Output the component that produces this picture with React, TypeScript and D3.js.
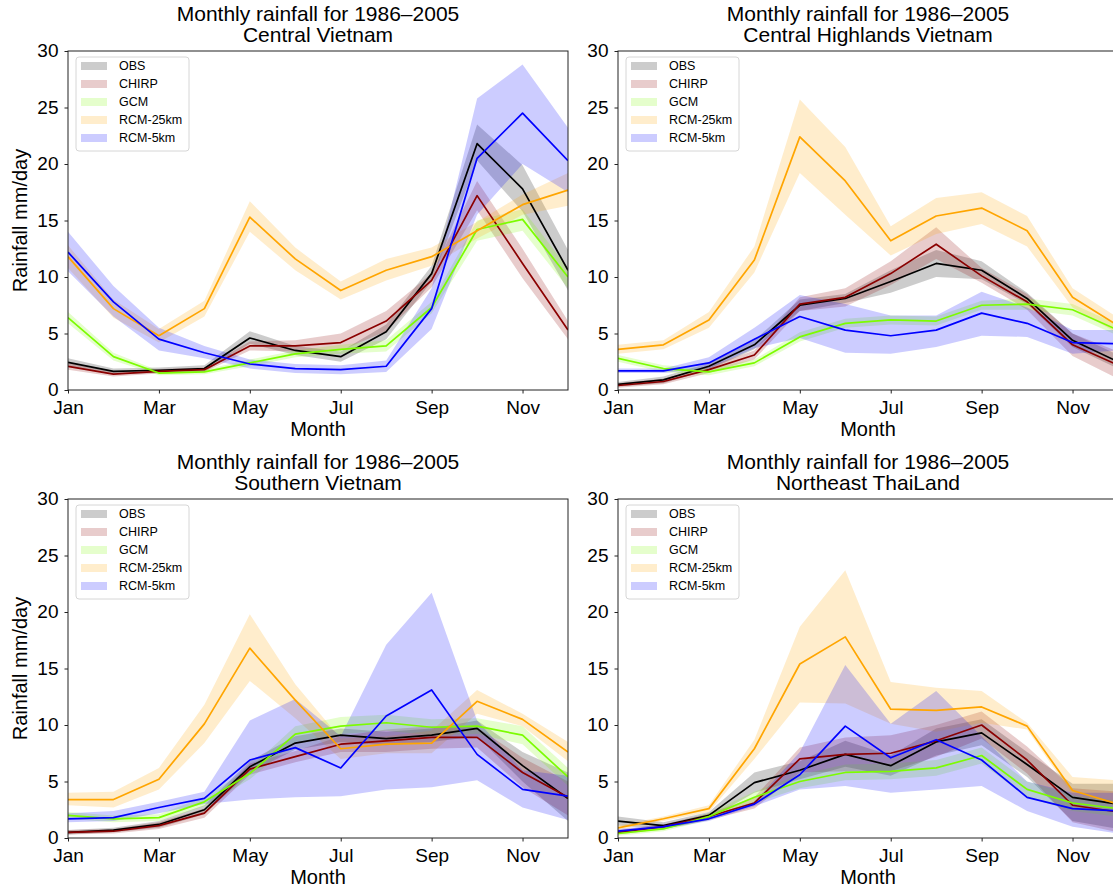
import React, { useRef, useEffect } from "react";
import * as d3 from "d3";

// months 1..12, ticks every second month
const monthTicks = [1, 3, 5, 7, 9, 11];
const monthTickLabels = ["Jan", "Mar", "May", "Jul", "Sep", "Nov"];
const yTicks = [0, 5, 10, 15, 20, 25, 30];

const seriesNames = ["OBS", "CHIRP", "GCM", "RCM-25km", "RCM-5km"];
const regionNames = [
    "Central Vietnam",
    "Central Highlands Vietnam",
    "Southern Vietnam",
    "Northeast ThaiLand",
];

// rows: OBS, CHIRP, GCM, RCM-25km, RCM-5km  (mm/day, Jan..Dec)
const centralMean = [
    [2.45, 1.65, 1.75, 1.9, 4.6, 3.5, 2.95, 5.15, 10.3, 21.8, 17.8, 10.6],
    [2.1, 1.4, 1.65, 1.8, 3.9, 3.9, 4.2, 6.1, 9.7, 17.2, 11.2, 5.3],
    [6.4, 2.95, 1.5, 1.6, 2.4, 3.2, 3.6, 3.9, 7.3, 14.2, 15.1, 10.0],
    [11.8, 7.2, 4.8, 7.2, 15.3, 11.6, 8.8, 10.6, 11.8, 14.1, 16.4, 17.7],
    [12.2, 7.8, 4.5, 3.3, 2.3, 1.9, 1.8, 2.1, 7.2, 20.5, 24.5, 20.3],
];
const centralLow = [
    [2.1, 1.4, 1.5, 1.6, 4.1, 3.1, 2.5, 4.5, 9.6, 20.3, 15.8, 8.8],
    [1.8, 1.2, 1.45, 1.6, 3.5, 3.4, 3.5, 5.2, 9.1, 15.9, 9.9, 4.5],
    [5.9, 2.6, 1.3, 1.4, 2.1, 2.9, 3.2, 3.4, 6.8, 13.2, 14.1, 9.0],
    [10.8, 6.4, 4.2, 6.5, 14.0, 10.6, 8.0, 9.7, 11.0, 13.4, 15.5, 16.3],
    [10.5, 6.5, 3.5, 2.8, 1.9, 1.5, 1.4, 1.6, 5.4, 15.5, 20.0, 17.5],
];
const centralHigh = [
    [2.8, 1.9, 2.0, 2.2, 5.2, 3.9, 3.4, 5.8, 11.0, 23.5, 19.9, 12.4],
    [2.4, 1.6, 1.85, 2.0, 4.3, 4.4, 5.0, 7.0, 10.3, 18.5, 12.5, 6.1],
    [6.9, 3.3, 1.7, 1.8, 2.7, 3.5, 4.0, 4.4, 7.8, 15.0, 16.0, 10.8],
    [12.8, 8.0, 5.4, 7.9, 16.7, 12.6, 9.6, 11.6, 12.6, 14.9, 17.3, 19.2],
    [14.0, 9.2, 5.5, 3.9, 2.7, 2.3, 2.2, 2.6, 9.0, 25.8, 28.8, 23.2],
];

const highlandsMean = [
    [0.5, 0.9, 2.1, 4.0, 7.5, 8.1, 9.6, 11.2, 10.6, 8.1, 4.4, 2.5],
    [0.4, 0.75, 1.8, 3.1, 7.6, 8.2, 10.3, 12.9, 10.1, 7.8, 4.0, 2.2],
    [2.8, 1.9, 1.6, 2.4, 4.7, 5.9, 6.2, 6.1, 7.5, 7.6, 7.1, 5.3],
    [3.6, 4.0, 6.2, 11.5, 22.4, 18.5, 13.2, 15.4, 16.1, 14.1, 8.2, 5.7],
    [1.7, 1.7, 2.4, 4.5, 6.5, 5.3, 4.8, 5.3, 6.8, 5.9, 4.2, 4.1],
];
const highlandsLow = [
    [0.3, 0.6, 1.8, 3.6, 7.0, 7.7, 8.6, 10.0, 9.8, 7.6, 3.8, 1.9],
    [0.2, 0.5, 1.5, 2.7, 7.0, 7.4, 9.3, 11.6, 9.5, 7.1, 3.0, 1.0],
    [2.5, 1.6, 1.3, 2.1, 4.3, 5.5, 5.8, 5.7, 7.1, 7.1, 6.6, 4.8],
    [3.2, 3.6, 5.5, 10.4, 19.2, 15.5, 11.9, 13.8, 14.7, 12.7, 7.3, 5.0],
    [1.5, 1.5, 1.9, 3.7, 4.6, 3.3, 3.2, 3.8, 4.8, 4.7, 3.2, 3.5],
];
const highlandsHigh = [
    [0.7, 1.2, 2.4, 4.4, 8.0, 8.5, 10.6, 12.4, 11.4, 8.6, 5.0, 3.1],
    [0.6, 1.0, 2.1, 3.5, 8.2, 9.0, 11.4, 14.4, 10.8, 8.5, 5.0, 3.4],
    [3.1, 2.2, 1.9, 2.7, 5.1, 6.3, 6.6, 6.5, 7.9, 8.1, 7.6, 5.8],
    [4.0, 4.4, 6.9, 12.7, 25.7, 21.5, 14.5, 17.0, 17.5, 15.4, 9.0, 6.4],
    [1.9, 1.9, 2.9, 5.5, 8.4, 7.6, 6.6, 6.6, 8.7, 7.3, 5.3, 5.3],
];

const southernMean = [
    [0.5, 0.7, 1.2, 2.5, 6.3, 8.4, 9.1, 8.8, 9.1, 9.7, 6.4, 3.5],
    [0.5, 0.6, 1.1, 2.2, 6.1, 7.2, 8.3, 8.6, 8.9, 8.9, 5.8, 3.6],
    [2.0, 1.7, 1.8, 3.2, 5.7, 9.2, 9.9, 10.2, 9.8, 9.9, 9.1, 5.4],
    [3.4, 3.4, 5.2, 10.1, 16.8, 12.2, 7.9, 8.3, 8.4, 12.1, 10.5, 7.6],
    [1.7, 1.8, 2.7, 3.5, 6.9, 8.0, 6.2, 10.8, 13.1, 7.4, 4.3, 3.7],
];
const southernLow = [
    [0.3, 0.5, 0.9, 2.1, 5.8, 7.8, 8.5, 8.2, 8.5, 9.0, 5.0, 1.5],
    [0.3, 0.4, 0.8, 1.8, 5.6, 6.7, 7.6, 7.6, 7.9, 8.0, 4.5, 2.0],
    [1.7, 1.4, 1.5, 2.8, 5.2, 8.5, 9.2, 9.5, 9.1, 9.2, 8.3, 4.6],
    [2.9, 2.7, 4.3, 8.4, 13.9, 10.6, 7.0, 7.5, 7.5, 11.0, 9.9, 6.8],
    [1.4, 1.5, 2.2, 3.0, 3.4, 3.6, 3.7, 4.3, 4.5, 5.1, 2.7, 1.6],
];
const southernHigh = [
    [0.7, 0.9, 1.5, 2.9, 6.8, 9.0, 9.7, 9.4, 9.7, 10.4, 7.6, 5.8],
    [0.7, 0.8, 1.4, 2.6, 6.6, 7.7, 9.0, 9.6, 9.9, 9.8, 7.1, 5.0],
    [2.3, 2.0, 2.1, 3.6, 6.2, 9.9, 10.7, 10.9, 10.5, 10.6, 9.9, 6.2],
    [4.0, 4.1, 6.2, 11.8, 19.8, 13.6, 8.8, 9.0, 9.5, 13.1, 11.0, 8.5],
    [2.2, 2.4, 3.2, 4.1, 10.4, 12.3, 9.0, 17.1, 21.7, 10.4, 6.0, 5.5],
];

const thaiMean = [
    [1.5, 1.1, 2.0, 4.9, 6.0, 7.4, 6.4, 8.5, 9.3, 6.5, 3.6, 3.0],
    [0.5, 1.0, 1.9, 3.1, 7.0, 7.4, 7.5, 8.6, 10.0, 6.9, 2.9, 2.3],
    [0.4, 0.8, 1.9, 3.6, 5.0, 5.8, 5.9, 6.2, 7.3, 4.3, 3.1, 2.6],
    [0.9, 1.7, 2.6, 7.9, 15.4, 17.8, 11.4, 11.3, 11.6, 9.9, 4.2, 3.0],
    [0.6, 1.0, 1.7, 3.0, 5.6, 9.9, 7.1, 8.7, 6.9, 3.6, 2.6, 2.4],
];
const thaiLow = [
    [1.1, 0.8, 1.7, 4.0, 5.2, 6.3, 5.5, 7.3, 8.2, 5.4, 1.5, 0.8],
    [0.3, 0.8, 1.6, 2.6, 5.8, 5.9, 5.9, 7.2, 8.8, 5.7, 1.4, 0.5],
    [0.2, 0.6, 1.6, 3.1, 4.4, 5.1, 5.2, 5.5, 6.6, 3.6, 2.4, 1.9],
    [0.7, 1.5, 2.3, 7.0, 12.0, 11.9, 10.1, 9.4, 10.2, 9.6, 3.8, 2.8],
    [0.4, 0.8, 1.5, 2.8, 4.3, 4.6, 4.0, 4.3, 4.6, 2.4, 1.0, 0.4],
];
const thaiHigh = [
    [1.9, 1.4, 2.3, 5.8, 6.8, 8.6, 7.3, 9.7, 10.5, 7.6, 4.8, 4.8],
    [0.7, 1.2, 2.2, 3.6, 8.0, 8.9, 9.1, 10.0, 11.2, 8.1, 4.4, 4.1],
    [0.6, 1.0, 2.2, 4.1, 5.6, 6.5, 6.6, 6.9, 8.0, 5.0, 3.8, 3.3],
    [1.1, 1.9, 2.9, 8.7, 18.7, 23.7, 13.8, 13.3, 13.0, 10.2, 5.4, 5.1],
    [0.8, 1.2, 1.9, 3.2, 7.6, 15.3, 10.1, 13.0, 9.0, 5.0, 4.0, 4.0],
];

const lineColors = ["#000000", "#8b0000", "#7cfc00", "#ffa500", "#0000ff"];
const FONT = "Liberation Sans, Arial, sans-serif";

const App: React.FC = () => {
    const svgRef = useRef<SVGSVGElement | null>(null);

    useEffect(() => {
        const svg = d3.select(svgRef.current);
        svg.selectAll("*").remove();

        const panels = [
            { left: 68, top: 51, mean: centralMean, low: centralLow, high: centralHigh },
            { left: 618, top: 51, mean: highlandsMean, low: highlandsLow, high: highlandsHigh },
            { left: 68, top: 499, mean: southernMean, low: southernLow, high: southernHigh },
            { left: 618, top: 499, mean: thaiMean, low: thaiLow, high: thaiHigh },
        ];
        const w = 500;
        const h = 339;

        const x = d3.scaleLinear().domain([1, 12]).range([0, w]);
        const y = d3.scaleLinear().domain([0, 30]).range([h, 0]);
        const months = d3.range(1, 13);

        panels.forEach((p, pi) => {
            const g = svg
                .append("g")
                .attr("transform", `translate(${p.left},${p.top})`);

            g.append("clipPath")
                .attr("id", `clip${pi}`)
                .append("rect")
                .attr("width", w)
                .attr("height", h);

            const plot = g.append("g").attr("clip-path", `url(#clip${pi})`);

            // bands first, then lines on top
            seriesNames.forEach((_, si) => {
                const band = d3
                    .area<number>()
                    .x((m) => x(m))
                    .y0((m, i) => y(p.low[si][i]))
                    .y1((m, i) => y(p.high[si][i]));
                plot.append("path")
                    .datum(months)
                    .attr("d", band)
                    .attr("fill", lineColors[si])
                    .attr("fill-opacity", 0.2);
            });
            seriesNames.forEach((_, si) => {
                const line = d3
                    .line<number>()
                    .x((m) => x(m))
                    .y((m, i) => y(p.mean[si][i]));
                plot.append("path")
                    .datum(months)
                    .attr("d", line)
                    .attr("fill", "none")
                    .attr("stroke", lineColors[si])
                    .attr("stroke-width", 1.7)
                    .attr("stroke-linejoin", "round");
            });

            // axes
            const xAxis = d3
                .axisBottom(x)
                .tickValues(monthTicks)
                .tickFormat((d, i) => monthTickLabels[i])
                .tickSize(3.5)
                .tickSizeOuter(0)
                .tickPadding(7);
            const yAxis = d3
                .axisLeft(y)
                .tickValues(yTicks)
                .tickFormat(d3.format("d"))
                .tickSize(3.5)
                .tickSizeOuter(0)
                .tickPadding(6);

            const gx = g.append("g").attr("transform", `translate(0,${h})`).call(xAxis);
            const gy = g.append("g").call(yAxis);
            [gx, gy].forEach((ax) => {
                ax.select(".domain").remove();
                ax.selectAll("line").attr("stroke", "#222");
                ax.selectAll("text")
                    .attr("font-family", FONT)
                    .attr("font-size", 19)
                    .attr("fill", "#000");
            });
            // "0" sits a touch higher so it clears "Jan"
            gy.selectAll("text").attr("dy", "0.3em");

            g.append("rect")
                .attr("width", w)
                .attr("height", h)
                .attr("fill", "none")
                .attr("stroke", "#222")
                .attr("stroke-width", 1);

            // titles
            const title = g
                .append("text")
                .attr("text-anchor", "middle")
                .attr("font-family", FONT)
                .attr("font-size", 21)
                .attr("fill", "#000");
            title.append("tspan").attr("x", w / 2).attr("y", -30).text("Monthly rainfall for 1986–2005");
            title.append("tspan").attr("x", w / 2).attr("y", -9).text(regionNames[pi]);

            g.append("text")
                .attr("x", w / 2)
                .attr("y", h + 46)
                .attr("text-anchor", "middle")
                .attr("font-family", FONT)
                .attr("font-size", 20)
                .text("Month");

            if (pi % 2 === 0) {
                g.append("text")
                    .attr("transform", `translate(${27 - p.left},${h / 2}) rotate(-90)`)
                    .attr("text-anchor", "middle")
                    .attr("font-family", FONT)
                    .attr("font-size", 20)
                    .text("Rainfall mm/day");
            }

            // legend
            const lg = g.append("g").attr("transform", "translate(8,6)");
            lg.append("rect")
                .attr("width", 113)
                .attr("height", 94)
                .attr("rx", 3)
                .attr("fill", "#fff")
                .attr("fill-opacity", 0.8)
                .attr("stroke", "#d6d6d6");
            seriesNames.forEach((name, si) => {
                const cy = 9 + si * 18;
                lg.append("rect")
                    .attr("x", 5)
                    .attr("y", cy - 4)
                    .attr("width", 26)
                    .attr("height", 8)
                    .attr("fill", lineColors[si])
                    .attr("fill-opacity", 0.2);
                lg.append("text")
                    .attr("x", 43)
                    .attr("y", cy)
                    .attr("dy", "0.35em")
                    .attr("font-family", FONT)
                    .attr("font-size", 12.5)
                    .text(name);
            });
        });
    }, []);

    return (
        <div style={{ position: "absolute", left: 0, top: 0 }}>
            <svg ref={svgRef} width={1113} height={890} style={{ display: "block", background: "#fff" }}></svg>
        </div>
    );
};

export default App;
